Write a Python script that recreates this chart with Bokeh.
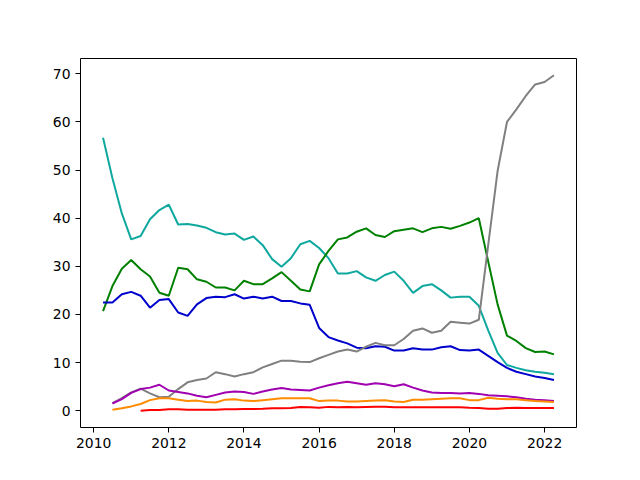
import numpy as np
from bokeh.plotting import figure
from bokeh.models import FixedTicker
from bokeh.embed import file_html
from bokeh.resources import INLINE

dates = [2010.25, 2010.5, 2010.75, 2011.0, 2011.25, 2011.5, 2011.75, 2012.0,
         2012.25, 2012.5, 2012.75, 2013.0, 2013.25, 2013.5, 2013.75, 2014.0,
         2014.25, 2014.5, 2014.75, 2015.0, 2015.25, 2015.5, 2015.75, 2016.0,
         2016.25, 2016.5, 2016.75, 2017.0, 2017.25, 2017.5, 2017.75, 2018.0,
         2018.25, 2018.5, 2018.75, 2019.0, 2019.25, 2019.5, 2019.75, 2020.0,
         2020.25, 2020.5, 2020.75, 2021.0, 2021.25, 2021.5, 2021.75, 2022.0,
         2022.25]

teal = [56.7, 48.3, 41.0, 35.6, 36.3, 39.8, 41.7, 42.8, 38.7, 38.8, 38.5, 38.0,
        37.1, 36.6, 36.8, 35.5, 36.2, 34.4, 31.5, 29.9, 31.7, 34.6, 35.3, 33.8,
        31.7, 28.5, 28.5, 29.0, 27.7, 27.0, 28.2, 28.9, 27.0, 24.5, 25.9, 26.3,
        25.0, 23.5, 23.7, 23.7, 21.8, 16.7, 12.0, 9.5, 8.9, 8.4, 8.1, 7.9, 7.6]

green = [20.7, 25.9, 29.5, 31.3, 29.4, 27.9, 24.5, 23.9, 29.7, 29.4, 27.3, 26.8,
         25.6, 25.6, 25.0, 27.0, 26.3, 26.3, 27.5, 28.8, 27.0, 25.2, 24.8, 30.4,
         33.2, 35.6, 36.0, 37.2, 37.9, 36.5, 36.1, 37.3, 37.6, 37.9, 37.1, 37.9,
         38.2, 37.8, 38.4, 39.1, 40.0, 31.0, 22.1, 15.6, 14.5, 13.0, 12.2, 12.3, 11.7]

blue = [22.5, 22.5, 24.2, 24.7, 23.9, 21.4, 23.0, 23.2, 20.4, 19.7, 22.1, 23.4,
        23.7, 23.6, 24.2, 23.3, 23.7, 23.3, 23.7, 22.8, 22.8, 22.3, 22.0, 17.2,
        15.3, 14.6, 14.0, 13.1, 13.0, 13.4, 13.3, 12.5, 12.5, 13.0, 12.7, 12.7,
        13.2, 13.4, 12.6, 12.5, 12.7, 11.4, 10.1, 8.9, 8.1, 7.6, 7.1, 6.8, 6.4]

gray = [None, 1.6, 2.6, 3.8, 4.6, 3.6, 2.8, 2.9, 4.5, 5.9, 6.4, 6.7,
        8.0, 7.6, 7.1, 7.6, 8.0, 9.0, 9.7, 10.4, 10.4, 10.2, 10.1, 10.9,
        11.6, 12.3, 12.7, 12.3, 13.3, 14.1, 13.6, 13.6, 14.9, 16.6, 17.1, 16.2,
        16.6, 18.5, 18.3, 18.1, 18.9, 34.4, 49.8, 60.0, 62.6, 65.4, 67.8, 68.3, 69.7]

purple = [None, 1.5, 2.4, 3.7, 4.5, 4.8, 5.4, 4.2, 3.9, 3.6, 3.1, 2.8,
          3.3, 3.8, 4.0, 3.9, 3.5, 4.0, 4.4, 4.7, 4.4, 4.3, 4.2, 4.8,
          5.3, 5.7, 6.0, 5.7, 5.4, 5.7, 5.5, 5.1, 5.5, 4.8, 4.2, 3.8,
          3.7, 3.7, 3.6, 3.7, 3.5, 3.2, 3.1, 3.0, 2.8, 2.5, 2.3, 2.2, 2.0]

orange = [None, 0.2, 0.5, 0.9, 1.4, 2.2, 2.6, 2.6, 2.3, 2.0, 2.1, 1.8,
          1.7, 2.3, 2.4, 2.1, 2.0, 2.2, 2.4, 2.6, 2.6, 2.6, 2.6, 2.0,
          2.1, 2.1, 1.9, 1.9, 2.0, 2.1, 2.2, 1.9, 1.8, 2.3, 2.3, 2.4,
          2.5, 2.6, 2.6, 2.2, 2.2, 2.7, 2.5, 2.4, 2.4, 2.2, 2.0, 1.9, 1.8]

red = [None, None, None, None, 0.0, 0.15, 0.15, 0.3, 0.3, 0.2, 0.2, 0.2,
       0.2, 0.3, 0.3, 0.35, 0.35, 0.4, 0.5, 0.5, 0.55, 0.75, 0.7, 0.6,
       0.8, 0.7, 0.8, 0.7, 0.8, 0.85, 0.85, 0.7, 0.7, 0.7, 0.7, 0.7,
       0.7, 0.7, 0.7, 0.6, 0.55, 0.42, 0.42, 0.55, 0.6, 0.55, 0.55, 0.55, 0.55]

x_ticks = [2010, 2012, 2014, 2016, 2018, 2020, 2022]
y_ticks = [0, 10, 20, 30, 40, 50, 60, 70]

series = [
    (teal, "#0fa89f"),
    (green, "#008000"),
    (blue, "#0000cc"),
    (gray, "#808080"),
    (purple, "#a000b0"),
    (orange, "#ff8c00"),
    (red, "#ff0000"),
]

p = figure(width=640, height=480, output_backend="svg", toolbar_location=None,
           x_range=(2009.65, 2022.85), y_range=(-3.485, 73.185),
           min_border_left=80, min_border_right=64, min_border_top=58,
           min_border_bottom=53)
p.background_fill_color = "white"
p.border_fill_color = "white"
p.outline_line_color = "black"
p.outline_line_width = 1
p.xgrid.visible = False
p.ygrid.visible = False

xs = np.array(dates, dtype=float)
for vals, col in series:
    ys = np.array(vals, dtype=float)
    p.line(xs, ys, line_color=col, line_width=2)

for ax in (p.xaxis, p.yaxis):
    ax.axis_line_color = None
    ax.major_tick_line_color = "black"
    ax.major_tick_out = 5
    ax.major_tick_in = 0
    ax.minor_tick_line_color = None
    ax.major_label_text_font = "DejaVu Sans"
    ax.major_label_text_font_size = "13.9px"
    ax.major_label_text_color = "black"
    ax.major_label_standoff = 5
p.xaxis.ticker = FixedTicker(ticks=x_ticks)
p.yaxis.ticker = FixedTicker(ticks=y_ticks)

open("out.html", "w").write(file_html(p, INLINE))
